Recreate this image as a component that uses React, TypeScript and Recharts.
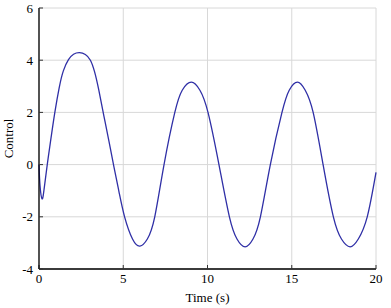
import { CartesianGrid, Line, LineChart, XAxis, YAxis } from "recharts"

const time = [
  0, 0.06, 0.18, 0.3, 0.49, 0.72, 0.94, 1.2, 1.45, 1.75, 2.05, 2.4, 2.75, 3.05, 3.3, 3.55, 3.84, 4.15, 4.45,
  4.75, 5.08, 5.55, 5.99, 6.43, 6.87, 7.42, 8.06, 8.5, 9.04, 9.55, 10.03, 10.68, 11.3, 11.75, 12.23,
  12.7, 13.14, 13.73, 14.42, 14.85, 15.34, 15.8, 16.27, 16.86, 17.47, 17.95, 18.46, 18.95, 19.48, 20,
]
const control = [
  0, -0.8, -1.31, -0.95, 0, 1.05, 2.0, 2.95, 3.6, 4.02, 4.23, 4.29, 4.22, 4.0, 3.55, 2.85, 1.9, 0.9, -0.1,
  -1.05, -2.0, -2.85, -3.12, -2.85, -2.0, 0, 2.0, 2.85, 3.16, 2.85, 2.0, 0, -2.0, -2.85, -3.15,
  -2.85, -2.0, 0, 2.0, 2.85, 3.16, 2.85, 2.0, 0, -2.0, -2.85, -3.15, -2.85, -2.0, -0.3,
]
const xTicks = [0, 5, 10, 15, 20]
const yTicks = [-4, -2, 0, 2, 4, 6]

const data = time.map((t, i) => ({ t, u: control[i] }))

const font = { fontFamily: "'Liberation Serif', 'Times New Roman', serif", fontSize: 13, fill: "#000" }

export default function App() {
  return (
    <div style={{ position: "absolute", left: 0, top: 0, background: "#fff" }}>
      <LineChart width={391} height={308} data={data} margin={{ top: 8, right: 15, left: 0, bottom: 0 }}>
        <CartesianGrid stroke="#d8d8d8" strokeWidth={1} />
        <XAxis
          dataKey="t"
          type="number"
          domain={[0, 20]}
          ticks={xTicks}
          height={39}
          axisLine={{ stroke: "#000", strokeWidth: 1.3 }}
          tickLine={{ stroke: "#333" }}
          tickSize={-4}
          tickMargin={9}
          tick={font}
          label={{
            value: "Time (s)",
            content: (p: any) => {
              const vb = p.viewBox
              return (
                <text x={vb.x + vb.width / 2} y={301.5} textAnchor="middle" style={font}>
                  Time (s)
                </text>
              )
            },
          }}
        />
        <XAxis
          xAxisId="top"
          dataKey="t"
          type="number"
          orientation="top"
          domain={[0, 20]}
          ticks={xTicks}
          height={0}
          axisLine={{ stroke: "#000", strokeWidth: 1.3 }}
          tickLine={{ stroke: "#333" }}
          tickSize={-4}
          tick={false}
        />
        <YAxis
          type="number"
          domain={[-4, 6]}
          ticks={yTicks}
          width={39}
          axisLine={{ stroke: "#000", strokeWidth: 1.3 }}
          tickLine={{ stroke: "#333" }}
          tickSize={-4}
          tickMargin={10}
          tick={font}
          label={{
            value: "Control",
            content: (p: any) => {
              const vb = p.viewBox
              const cy = vb.y + vb.height / 2
              return (
                <text x={13} y={cy} textAnchor="middle" transform={`rotate(-90, 13, ${cy})`} style={font}>
                  Control
                </text>
              )
            },
          }}
        />
        <YAxis
          yAxisId="right"
          orientation="right"
          type="number"
          domain={[-4, 6]}
          ticks={yTicks}
          width={0}
          axisLine={{ stroke: "#000", strokeWidth: 1.3 }}
          tickLine={{ stroke: "#333" }}
          tickSize={-4}
          tick={false}
        />
        <Line
          type="natural"
          dataKey="u"
          stroke="#2f2fa6"
          strokeWidth={1.3}
          dot={false}
          isAnimationActive={false}
        />
      </LineChart>
    </div>
  )
}
